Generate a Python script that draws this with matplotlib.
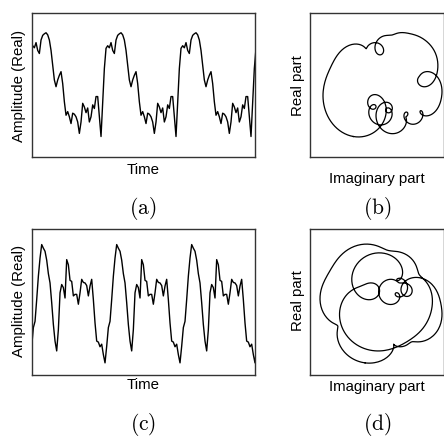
import numpy as np
import matplotlib
matplotlib.use("Agg")
import matplotlib.pyplot as plt

plt.rcParams["font.family"] = ["Liberation Sans", "DejaVu Sans"]
plt.rcParams["mathtext.fontset"] = "cm"

# one period of each real signal, 45 samples
period_a = [-0.99, -0.32, 0.32, 0.71, 0.76, 0.72, 0.82, 0.67, 0.61, 0.87,
            0.96, 0.99, 1.01, 0.97, 0.87, 0.67, 0.38, 0.10, -0.03, 0.10,
            0.19, 0.26, 0.03, -0.32, -0.58, -0.51, -0.61, -0.74, -0.54, -0.56,
            -0.61, -0.71, -0.93, -0.71, -0.35, -0.42, -0.53, -0.44, -0.71, -0.61,
            -0.38, -0.45, -0.22, -0.22, -0.61]
period_c = [-1.17, -0.85, -0.49, -0.37, 0.05, 0.50, 0.85, 1.11, 1.04, 0.98,
            0.81, 0.55, 0.37, -0.01, -0.43, -0.75, -0.94, -0.53, 0.18, 0.34,
            0.28, 0.08, 0.82, 0.72, 0.42, 0.40, 0.12, 0.15, 0.15, -0.04,
            0.18, 0.44, 0.38, 0.37, 0.32, 0.12, 0.31, 0.44, 0.05, -0.40,
            -0.75, -0.77, -0.86, -0.81, -1.01]
n_periods = 4


def analytic(x, up=16):
    """Complex (analytic) signal of one period, resampled smoothly."""
    x = np.asarray(x, float)
    n = len(x)
    X = np.fft.fft(x)
    Xp = np.zeros(n * up, complex)
    Xp[0] = X[0]
    Xp[1:(n + 1) // 2] = 2 * X[1:(n + 1) // 2]
    z = np.fft.ifft(Xp) * up
    return np.append(z, z[0])


W, H = 444, 437
fig = plt.figure(figsize=(W / 100, H / 100), dpi=100)


def box(l, t, r, b):
    return [l / W, 1 - b / H, (r - l) / W, (b - t) / H]


def style(ax):
    ax.set_xticks([])
    ax.set_yticks([])
    for s in ax.spines.values():
        s.set_color("#333333")
        s.set_linewidth(1.0)


# (signal, left box, right box, sample offset, y half-range, curve left/right px)
panels = [
    (period_a, box(31.7, 13.3, 255, 157), box(310, 13.3, 443.5, 157), 3.4, 1.385, (323, 442)),
    (period_c, box(31.7, 229.3, 255, 375), box(310, 229.3, 443.5, 375), 1.0, 1.404, (320, 442)),
]

for period, pos_l, pos_r, off, ylim, (pl, pr) in panels:
    sig = np.tile(period, n_periods)
    ax = fig.add_axes(pos_l)
    ax.plot(np.arange(len(sig)), sig, color="black", lw=1.0)
    ax.set_xlim(off, off + 134)
    ax.set_ylim(-ylim, ylim)
    style(ax)

    z = analytic(period)
    ax2 = fig.add_axes(pos_r)
    ax2.plot(z.imag, z.real, color="black", lw=0.9)
    lo, hi = z.imag.min(), z.imag.max()
    k = (hi - lo) / (pr - pl)
    ax2.set_xlim(lo - (pl - 310) * k, hi + (443.5 - pr) * k)
    ax2.set_ylim(-ylim, ylim)
    style(ax2)

fs = 10.8
for yt, ylab in [(163, 86), (378, 301)]:
    fig.text(143 / W, 1 - yt / H, "Time", ha="center", va="top", fontsize=fs)
    fig.text(19 / W, 1 - ylab / H, "Amplitude (Real)", rotation=90,
             ha="center", va="center", fontsize=fs)
    fig.text(298 / W, 1 - ylab / H, "Real part", rotation=90,
             ha="center", va="center", fontsize=fs)
for yt in [172, 380]:
    fig.text(377 / W, 1 - yt / H, "Imaginary part", ha="center", va="top", fontsize=fs)

for x, y, lab in [(143, 208, "a"), (377, 208, "b"), (143, 424, "c"), (377, 424, "d")]:
    fig.text(x / W, 1 - y / H, r"$\mathrm{(%s)}$" % lab, ha="center", va="center", fontsize=15.5)

fig.savefig("out.png", dpi=100)
